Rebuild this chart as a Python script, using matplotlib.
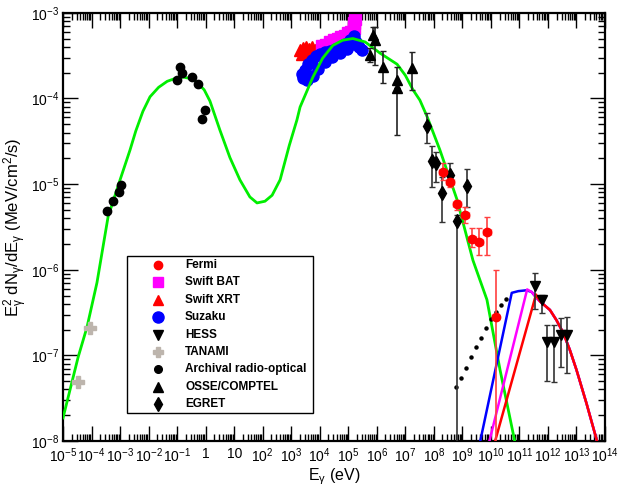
import numpy as np
import matplotlib
matplotlib.use("Agg")
import matplotlib.pyplot as plt
from matplotlib.patches import Rectangle
from matplotlib.ticker import FixedLocator, FixedFormatter, LogLocator, NullFormatter

plt.rcParams['font.family'] = ['Liberation Sans', 'DejaVu Sans']
plt.rcParams['mathtext.fontset'] = 'custom'
plt.rcParams['mathtext.rm'] = 'Liberation Sans'
plt.rcParams['mathtext.it'] = 'Liberation Sans'
plt.rcParams['mathtext.bf'] = 'Liberation Sans:bold'

# all values are log10(E / eV) and log10(E^2 dN/dE / (MeV/cm^2/s))

# model curves
green_x = [-5.0, -4.47, -4.16, -3.81, -3.42, -3.00, -2.65, -2.45, -2.20, -1.95, -1.65, -1.35, -1.10,
           -0.79, -0.50, -0.30, -0.05, 0.15, 0.50,
           0.85, 1.20, 1.55, 1.80, 2.08, 2.33, 2.61, 2.93, 3.20, 3.31, 3.76, 4.10, 4.46, 4.80, 5.16, 5.59,
           6.11, 6.71, 7.00, 7.27, 7.51, 7.76, 8.21, 8.81, 9.37, 9.86, 10.32, 10.84]
green_y = [-7.73, -7.02, -6.67, -6.15, -5.38, -4.95, -4.60, -4.38, -4.15, -3.98, -3.87, -3.80, -3.77,
           -3.75, -3.77, -3.81, -3.90, -4.03, -4.37,
           -4.69, -4.95, -5.15, -5.22, -5.20, -5.13, -4.95, -4.55, -4.25, -4.10, -3.75, -3.53, -3.38, -3.32, -3.30, -3.34,
           -3.47, -3.60, -3.73, -3.90, -4.02, -4.21, -4.60, -5.18, -5.89, -6.35, -7.17, -8.01]

tail_x = [11.72, 12.07, 12.30, 12.54, 12.77, 13.00, 13.35, 13.71]
tail_y = [-6.37, -6.47, -6.59, -6.74, -6.94, -7.17, -7.56, -7.99]

blue_x = [9.62, 10.73, 10.96, 11.25, 11.43, 11.60] + tail_x
blue_y = [-8.01, -6.27, -6.25, -6.24, -6.26, -6.33] + tail_y
magenta_x = [9.94, 11.27, 11.43, 11.60] + tail_x
magenta_y = [-8.01, -6.23, -6.26, -6.33] + tail_y
red_x = [10.14, 11.58] + tail_x
red_y = [-8.01, -6.29] + tail_y

dots_x = [8.78, 8.95, 9.13, 9.30, 9.48, 9.65, 9.83, 10.00, 10.18, 10.35, 10.53]
dots_y = [-7.37, -7.26, -7.15, -7.02, -6.90, -6.80, -6.68, -6.57, -6.49, -6.41, -6.34]

# data points
fermi_x = [8.32, 8.56, 8.81, 9.09, 9.34, 9.58, 9.86, 10.17]
fermi_y = [-4.86, -4.97, -5.23, -5.36, -5.64, -5.68, -5.56, -6.55]
fermi_hi = [-4.75, -4.87, -5.18, -5.27, -5.51, -5.51, -5.38, -6.00]
fermi_lo = [-4.95, -5.03, -5.30, -5.45, -5.73, -5.83, -5.83, -9.0]

bat_x = [4.08, 4.22, 4.36, 4.50, 4.64, 4.76, 4.88, 5.00, 5.10, 5.20, 5.20, 5.22]
bat_y = [-3.39, -3.37, -3.34, -3.32, -3.30, -3.28, -3.27, -3.24, -3.22, -3.18, -3.12, -3.07]

xrt_x = [3.31, 3.41, 3.52, 3.62, 3.73, 3.83, 3.90, 3.38, 3.55, 3.69]
xrt_y = [-3.43, -3.41, -3.40, -3.42, -3.40, -3.43, -3.46, -3.48, -3.47, -3.46]

suzaku_x = [3.38, 3.48, 3.59, 3.73, 3.87, 4.01, 4.18, 4.36, 4.53, 4.71, 4.88, 5.06, 5.20,
            5.27, 5.37, 5.48, 3.42, 3.55, 3.76, 3.94, 4.18, 4.43, 4.71, 4.95, 5.13]
suzaku_y = [-3.72, -3.67, -3.60, -3.55, -3.50, -3.48, -3.46, -3.44, -3.42, -3.40, -3.36, -3.32, -3.27,
            -3.34, -3.40, -3.43, -3.76, -3.78, -3.74, -3.66, -3.57, -3.52, -3.47, -3.42, -3.36]

hess_x = [11.54, 11.79, 11.96, 12.21, 12.46, 12.67]
hess_y = [-6.19, -6.35, -6.84, -6.84, -6.76, -6.76]
hess_hi = [-6.04, -6.29, -6.64, -6.64, -6.56, -6.55]
hess_lo = [-6.46, -6.50, -7.30, -7.31, -7.14, -7.21]

tanami_x = [-4.05, -4.47]
tanami_y = [-6.68, -7.31]

arch_x = [-3.46, -3.25, -3.04, -2.97, -0.90, -0.83, -1.00, -0.48, -0.27, -0.02, -0.13]
arch_y = [-5.31, -5.20, -5.09, -5.01, -3.63, -3.70, -3.78, -3.75, -3.83, -4.14, -4.24]

osse_x = [5.76, 5.85, 5.94, 6.21, 6.70, 6.70, 7.22]
osse_y = [-3.49, -3.26, -3.32, -3.63, -3.78, -3.88, -3.64]
osse_hi = [-3.41, -3.16, -3.16, -3.45, -3.63, -3.88, -3.46]
osse_lo = [-3.58, -3.30, -3.61, -3.82, -4.43, -3.88, -3.90]

egret_x = [7.76, 7.93, 8.07, 8.56, 8.28, 9.16, 8.81]
egret_y = [-4.32, -4.73, -4.75, -4.89, -5.10, -5.02, -5.43]
egret_hi = [-4.17, -4.55, -4.62, -4.75, -4.92, -4.82, -5.36]
egret_lo = [-4.52, -5.03, -4.97, -4.99, -5.44, -5.27, -9.0]

xtick_labels = [r'$10^{-5}$', r'$10^{-4}$', r'$10^{-3}$', r'$10^{-2}$', r'$10^{-1}$', '1', '10',
                r'$10^{2}$', r'$10^{3}$', r'$10^{4}$', r'$10^{5}$', r'$10^{6}$', r'$10^{7}$', r'$10^{8}$',
                r'$10^{9}$', r'$10^{10}$', r'$10^{11}$', r'$10^{12}$', r'$10^{13}$', r'$10^{14}$']
ytick_labels = [r'$10^{-8}$', r'$10^{-7}$', r'$10^{-6}$', r'$10^{-5}$', r'$10^{-4}$', r'$10^{-3}$']


def p(v):
    return 10.0 ** np.asarray(v, dtype=float)


def err(y, lo, hi):
    return [p(y) - p(lo), p(hi) - p(y)]


fig = plt.figure(figsize=(6.18, 4.86), dpi=100)
ax = fig.add_axes([0.102, 0.0926, 0.877, 0.881])
ax.set_xscale('log')
ax.set_yscale('log')

ax.plot(p(xrt_x), p(xrt_y), '^', color='#ff0000', ms=8, mec='#ff0000', ls='none', zorder=2)
ax.plot(p(bat_x), p(bat_y), 's', color='#ff00ff', ms=8, mec='#ff00ff', ls='none', zorder=2)
ax.plot(p(suzaku_x), p(suzaku_y), 'o', color='#0000ff', ms=8, mec='#0000ff', ls='none', zorder=3)

ax.plot(p(green_x), p(green_y), '-', color='#00ee00', lw=2, zorder=4)
ax.plot(p(blue_x), p(blue_y), '-', color='#0000ff', lw=1.8, zorder=4)
ax.plot(p(magenta_x), p(magenta_y), '-', color='#ff00ff', lw=1.8, zorder=4)
ax.plot(p(red_x), p(red_y), '-', color='#ff0000', lw=1.8, zorder=4)
ax.plot(p(dots_x), p(dots_y), 'o', color='black', ms=2.2, ls='none', zorder=4)

ax.errorbar(p(egret_x), p(egret_y), yerr=err(egret_y, egret_lo, egret_hi), fmt='d', color='black',
            ms=7, ecolor='#333333', elinewidth=1.2, capsize=2.5, zorder=5)
ax.errorbar(p(osse_x), p(osse_y), yerr=err(osse_y, osse_lo, osse_hi), fmt='^', color='black',
            ms=7, ecolor='#222222', elinewidth=1.2, capsize=2.5, zorder=5)
ax.errorbar(p(fermi_x), p(fermi_y), yerr=err(fermi_y, fermi_lo, fermi_hi),
            xerr=[p(fermi_x) - p(np.array(fermi_x) - 0.13), p(np.array(fermi_x) + 0.13) - p(fermi_x)],
            fmt='o', color='#ff0000', ms=6, ecolor='#ff4040', elinewidth=1.2, capsize=2.5, zorder=5)
ax.errorbar(p(hess_x), p(hess_y), yerr=err(hess_y, hess_lo, hess_hi), fmt='v', color='black',
            ms=7, ecolor='#333333', elinewidth=1.2, capsize=2.5, zorder=5)
ax.plot(p(tanami_x), p(tanami_y), 'P', color='#bdb5ad', ms=8, ls='none', zorder=5)
ax.plot(p(arch_x), p(arch_y), 'o', color='black', ms=6, ls='none', zorder=5)

ax.set_xlim(1e-5, 1e14)
ax.set_ylim(1e-8, 1e-3)
ax.xaxis.set_major_locator(FixedLocator(p(np.arange(-5, 15))))
ax.xaxis.set_major_formatter(FixedFormatter(xtick_labels))
ax.yaxis.set_major_locator(FixedLocator(p(np.arange(-8, -2))))
ax.yaxis.set_major_formatter(FixedFormatter(ytick_labels))
ax.xaxis.set_minor_locator(LogLocator(base=10, subs=np.arange(2, 10), numticks=200))
ax.yaxis.set_minor_locator(LogLocator(base=10, subs=np.arange(2, 10), numticks=200))
ax.xaxis.set_minor_formatter(NullFormatter())
ax.yaxis.set_minor_formatter(NullFormatter())
ax.tick_params(which='both', direction='in', top=True, right=True, width=1, labelsize=10)
ax.tick_params(which='major', length=11, pad=4)
ax.tick_params(axis='y', which='major', pad=3)
ax.tick_params(which='minor', length=5)
for s in ax.spines.values():
    s.set_linewidth(1.6)

ax.set_xlabel(r'E$_{\gamma}$ (eV)', fontsize=11.5, labelpad=1)
ax.set_ylabel(r'E$_{\gamma}^{2}$ dN$_{\gamma}$/dE$_{\gamma}$ (MeV/cm$^{2}$/s)', fontsize=12)
ax.yaxis.set_label_coords(-0.061, 0.5)

# legend drawn by hand to match the box
x0, w0, yb, h0 = 63.0, 542.0, 441.0, 428.0


def fx(px):
    return (px - x0) / w0


def fy(py):
    return (yb - py) / h0


ax.add_patch(Rectangle((fx(127), fy(413)), fx(313) - fx(127), fy(256) - fy(413),
                       transform=ax.transAxes, facecolor='white', edgecolor='black', lw=1, zorder=6))
entries = [
    ('Fermi', dict(marker='o', color='#ff0000', ms=6)),
    ('Swift BAT', dict(marker='s', color='#ff00ff', ms=7)),
    ('Swift XRT', dict(marker='^', color='#ff0000', ms=7)),
    ('Suzaku', dict(marker='o', color='#0000ff', ms=8)),
    ('HESS', dict(marker='v', color='black', ms=7)),
    ('TANAMI', dict(marker='P', color='#bdb5ad', ms=7)),
    ('Archival radio-optical', dict(marker='o', color='black', ms=5.5)),
    ('OSSE/COMPTEL', dict(marker='^', color='black', ms=7)),
    ('EGRET', dict(marker='d', color='black', ms=7)),
]
for i, (lab, st) in enumerate(entries):
    yy = fy(265 + i * 17.4)
    ax.plot([fx(157.5)], [yy], ls='none', transform=ax.transAxes, zorder=7, clip_on=False, **st)
    ax.text(fx(185), yy, lab, transform=ax.transAxes, fontsize=8.5, fontweight='bold',
            va='center', ha='left', zorder=7)

fig.savefig('out.png', dpi=100)
